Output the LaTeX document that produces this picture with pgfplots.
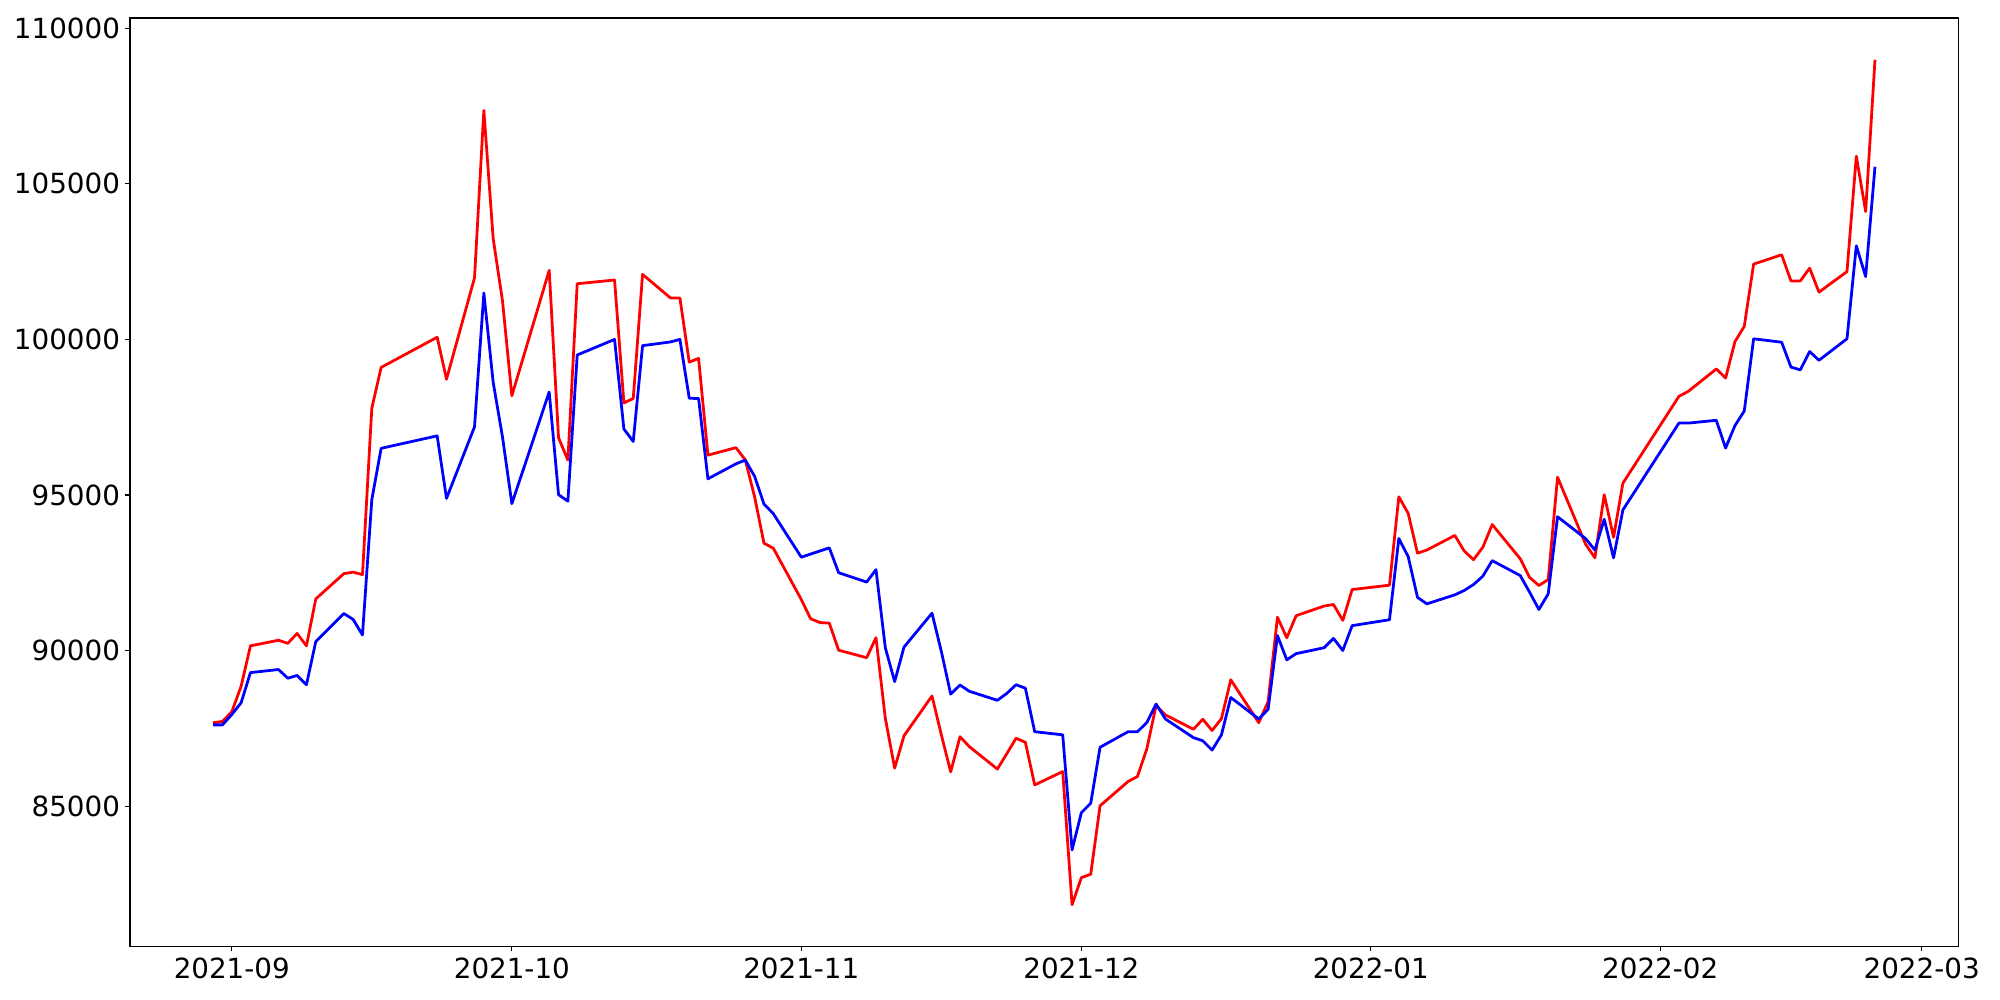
\documentclass[border=0pt]{standalone}
\usepackage{fontspec}
\setmainfont{DejaVu Sans}
\usepackage{pgfplots}
\pgfplotsset{compat=1.18}
\usepackage{pgfplotstable}
% d = days since 2021-09-01
\pgfplotstableread{
d red blue
-2 87680 87610
-1 87720 87610
0 88030 87940
1 88850 88320
2 90150 89290
5 90330 89390
6 90230 89110
7 90550 89200
8 90150 88900
9 91660 90290
12 92470 91190
13 92520 91000
14 92440 90500
15 97790 94850
16 99100 96500
22 100070 96900
23 98720 94890
26 101980 97190
27 107360 101490
28 103240 98620
29 101230 96860
30 98190 94720
34 102220 98310
35 96840 95010
36 96120 94800
37 101790 99500
41 101910 100000
42 97960 97120
43 98100 96720
44 102090 99800
47 101330 99920
48 101330 100000
49 99270 98110
50 99390 98100
51 96280 95520
54 96520 96000
55 96130 96120
56 94940 95600
57 93450 94710
58 93290 94400
61 91640 93000
62 91020 93100
63 90900 93200
64 90880 93300
65 90010 92500
68 89770 92200
69 90410 92600
70 87820 90090
71 86220 89000
72 87260 90110
75 88540 91200
76 87290 89970
77 86100 88600
78 87230 88890
79 86910 88690
82 86190 88400
83 86680 88620
84 87180 88900
85 87050 88790
86 85680 87390
89 86110 87290
90 81830 83590
91 82700 84790
92 82810 85090
93 85010 86890
96 85790 87390
97 85950 87390
98 86830 87680
99 88230 88280
100 87930 87800
103 87470 87200
104 87790 87100
105 87430 86800
106 87810 87290
107 89060 88490
110 87680 87800
111 88360 88110
112 91070 90480
113 90410 89700
114 91120 89900
117 91430 90090
118 91480 90390
119 90970 90000
120 91960 90800
124 92100 90990
125 94940 93600
126 94410 93020
127 93130 91710
128 93230 91500
131 93700 91790
132 93200 91930
133 92920 92120
134 93320 92390
135 94050 92890
138 92950 92410
139 92350 91880
140 92090 91320
141 92280 91820
142 95570 94300
145 93420 93600
146 92980 93230
147 95010 94220
148 93640 92980
149 95380 94520
155 98170 97310
156 98330 97310
159 99050 97400
160 98760 96510
161 99930 97230
162 100420 97700
163 102420 100020
166 102720 99910
167 101880 99110
168 101880 99020
169 102290 99610
170 101520 99330
173 102180 100020
174 105890 103010
175 104110 102020
176 108990 105550
}\data
\begin{document}
\begin{tikzpicture}
\useasboundingbox (-93.6bp,-38.6bp) rectangle (1346.4bp,681.4bp);
\begin{axis}[
  at={(0,0)}, anchor=south west,
  scale only axis, width=1316.2bp, height=668.4bp,
  xmin=-10.9, xmax=184.9, ymin=80490, ymax=110330,
  xtick={0,30,61,91,122,153,181},
  xticklabels={2021-09,2021-10,2021-11,2021-12,2022-01,2022-02,2022-03},
  ytick={85000,90000,95000,100000,105000,110000},
  tick align=outside, tick pos=left,
  major tick length=3.5bp,
  every tick/.style={black, line width=0.8bp},
  axis line style={line width=0.8bp},
  ticklabel style={font=\fontsize{20.07}{24}\selectfont, inner sep=0pt},
  xticklabel style={yshift=-4.5bp},
  yticklabel style={xshift=-3.5bp},
  /pgf/number format/assume math mode=true,
  yticklabel style={/pgf/number format/fixed, /pgf/number format/1000 sep={}},
  scaled y ticks=false,
]
\addplot[red, line width=2bp, line join=round] table[x=d, y=red] {\data};
\addplot[blue, line width=2bp, line join=round] table[x=d, y=blue] {\data};
\end{axis}
\end{tikzpicture}
\end{document}
